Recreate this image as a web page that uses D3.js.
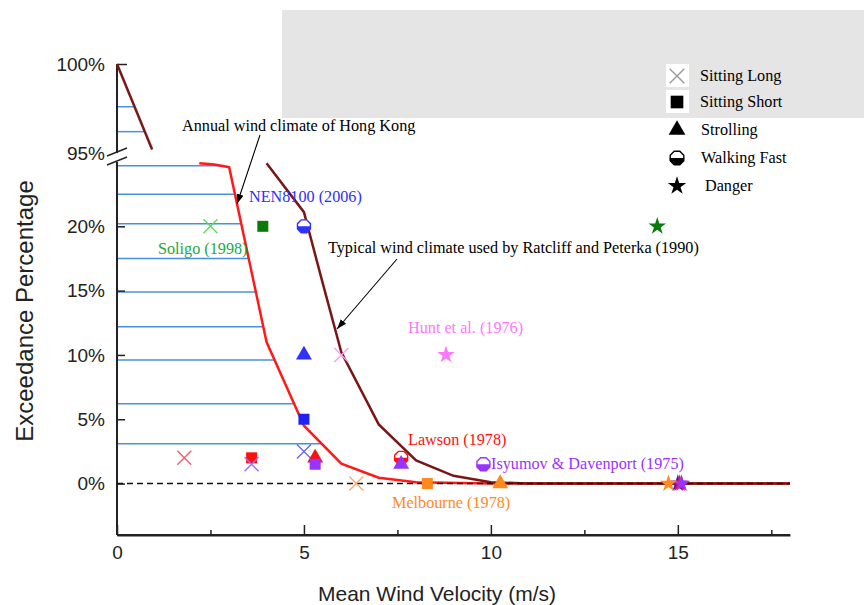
<!DOCTYPE html>
<html lang="en">
<head>
<meta charset="utf-8">
<title>Wind comfort criteria vs wind climate</title>
<script src="https://d3js.org/d3.v7.min.js"></script>
<style>
  body { margin: 0; background: #fff; }
  svg { display: block; }
</style>
</head>
<body>
<script>
// comfort categories (legend order)
const categories = ["Sitting Long", "Sitting Short", "Strolling", "Walking Fast", "Danger"];

// criteria per source: velocity (m/s) and exceedance (%) for each category, null = none
const sources = ["Soligo (1998)", "NEN8100 (2006)", "Hunt et al. (1976)", "Lawson (1978)", "Isyumov & Davenport (1975)", "Melbourne (1978)"];
const soligoV    = [2.5, 3.9, null, null, 14.45];
const soligoP    = [20, 20, null, null, 20];
const nenV       = [5.0, 5.0, 5.0, 5.0, 15.0];
const nenP       = [2.5, 5, 10, 20, 0];
const huntV      = [6.0, null, null, null, 8.8];
const huntP      = [10, null, null, null, 10];
const lawsonV    = [1.8, 3.6, 5.3, 7.6, 15.05];
const lawsonP    = [2, 2, 2, 2, 0];
const isyumovV   = [3.6, 5.3, 7.6, 9.8, 15.1];
const isyumovP   = [1.5, 1.5, 1.5, 1.5, 0];
const melbourneV = [6.4, 8.3, 10.25, null, 14.75];
const melbourneP = [0, 0, 0, null, 0];

// annual wind climate of Hong Kong (red) and Ratcliff & Peterka (brown)
const hkV = [2.2, 2.6, 3.0, 4.0, 5.0, 6.0, 7.0, 8.0, 10.0, 18.0];
const hkP = [24.9, 24.8, 24.6, 11.0, 4.5, 1.55, 0.45, 0.1, 0, 0];
const upperV = [0, 0.94];
const upperP = [100, 95.2];
const rpV = [4.0, 5.0, 5.5, 6.0, 7.0, 8.0, 9.0, 10.0, 11.0, 18.0];
const rpP = [24.9, 21.1, 15.6, 10.2, 4.6, 1.8, 0.6, 0.1, 0, 0];

// exceedance levels marked with blue lines
const blueLow = [24.7, 22.5, 20.2, 17.5, 14.9, 12.2, 9.6, 6.2, 3.1];
const blueUp = [97.6, 96.2];

const xTicks = [0, 5, 10, 15];
const xMinor = [2.5, 7.5, 12.5, 17.5];
const yTicksLow = [0, 5, 10, 15, 20];
const yTicksUp = [95, 100];

const srcColor = ["#1fa83f", "#3030ff", "#ff77ff", "#ff1010", "#9933ff", "#ff8a1c"];
const srcCross = ["#55e055", "#6a6af0", "#f5a0f0", "#ee6070", "#a070f0", "#f5aa70"];
const srcDark  = ["#0a7a0a", "#2020f0", "#ff77ff", "#ff1010", "#9933ff", "#ff8a1c"];

const W = 864, H = 605;
const svg = d3.select("body").append("svg").attr("width", W).attr("height", H);

const x = d3.scaleLinear().domain([0, 18]).range([117, 790]);
const yLow = d3.scaleLinear().domain([-4, 25]).range([535, 162]);
const yUp = d3.scaleLinear().domain([95, 100]).range([153, 64]);
function y(p) { return p >= 95 ? yUp(p) : yLow(p); }

const serif = "'Liberation Serif', 'Times New Roman', serif";
const sans = "'Liberation Sans', Arial, sans-serif";
const noteSize = "16.2px";

// grey box behind legend
svg.append("rect").attr("x", 282).attr("y", 10).attr("width", 582).attr("height", 108).attr("fill", "#e5e5e5");

// interpolate a curve at a given exceedance
function velAt(vs, ps, p) {
  for (let i = 0; i < vs.length - 1; i++) {
    const a = ps[i], b = ps[i + 1];
    if ((p <= a && p >= b) || (p >= a && p <= b)) {
      return vs[i] + (vs[i + 1] - vs[i]) * (p - a) / (b - a);
    }
  }
  return vs[0];
}

// blue level lines
const blueG = svg.append("g").attr("stroke", "#4a90e2").attr("stroke-width", 1.5);
blueLow.forEach(p => {
  blueG.append("line").attr("x1", x(0)).attr("x2", x(velAt(hkV, hkP, p)))
    .attr("y1", yLow(p)).attr("y2", yLow(p));
});
blueUp.forEach(p => {
  blueG.append("line").attr("x1", x(0)).attr("x2", x(velAt(upperV, upperP, p)))
    .attr("y1", yUp(p)).attr("y2", yUp(p));
});

// axes
const axG = svg.append("g");

const xAxis = axG.append("g").attr("transform", `translate(0,${yLow(-4)})`)
  .call(d3.axisBottom(x).tickValues(xTicks).tickSizeInner(-10).tickSizeOuter(0).tickPadding(11));
xAxis.append("g").call(d3.axisBottom(x).tickValues(xMinor).tickSizeInner(-5).tickSizeOuter(0).tickFormat(""));
xAxis.select(".domain").attr("d", `M${x(0)},0H${x(18)}`);

const yAxisLow = axG.append("g").attr("transform", `translate(${x(0)},0)`)
  .call(d3.axisLeft(yLow).tickValues(yTicksLow).tickSizeInner(-8).tickSizeOuter(0).tickPadding(12)
    .tickFormat(d => d + "%"));
yAxisLow.select(".domain").attr("d", `M0,${yLow(-4)}V${yLow(25)}`);

const yAxisUp = axG.append("g").attr("transform", `translate(${x(0)},0)`)
  .call(d3.axisLeft(yUp).tickValues(yTicksUp).tickSizeInner(-10).tickSizeOuter(0).tickPadding(12)
    .tickFormat(d => d + "%"));
yAxisUp.select(".domain").attr("d", `M0,${yUp(100)}V${yUp(95)}`);
yAxisUp.selectAll(".tick").filter(d => d === 95).select("line").remove();

axG.selectAll(".domain").attr("stroke", "#222").attr("stroke-width", 2);
axG.selectAll(".tick line").attr("stroke", "#222").attr("stroke-width", 1.5);
axG.selectAll(".tick text").attr("fill", "#222")
  .style("font-family", sans).style("font-size", "19px");

// axis break marks
const bx = x(0);
[[yLow(25) + 3, yLow(25) - 5], [yUp(95) + 3, yUp(95) - 5]].forEach(([a, b]) => {
  svg.append("line").attr("x1", bx - 10).attr("y1", a).attr("x2", bx + 10).attr("y2", b)
    .attr("stroke", "#222").attr("stroke-width", 1.5);
});

// axis titles
svg.append("text").attr("x", 437).attr("y", 601).attr("text-anchor", "middle")
  .style("font-family", sans).style("font-size", "21px").attr("fill", "#222")
  .text("Mean Wind Velocity (m/s)");
svg.append("text").attr("transform", `translate(33,311) rotate(-90)`).attr("text-anchor", "middle")
  .style("font-family", sans).style("font-size", "24px").attr("fill", "#222")
  .text("Exceedance Percentage");

// climate curves
const line = d3.line().x(d => x(d[0])).y(d => y(d[1]));
svg.append("path").datum(hkV.map((v, i) => [v, hkP[i]])).attr("d", line)
  .attr("fill", "none").attr("stroke", "#ff1a1a").attr("stroke-width", 2.5);
svg.append("path").datum(upperV.map((v, i) => [v, upperP[i]])).attr("d", line)
  .attr("fill", "none").attr("stroke", "#7a1616").attr("stroke-width", 2.5);
svg.append("path").datum(rpV.map((v, i) => [v, rpP[i]])).attr("d", line)
  .attr("fill", "none").attr("stroke", "#7a1616").attr("stroke-width", 2.5);

// zero line
svg.append("line").attr("x1", x(0)).attr("x2", x(18)).attr("y1", yLow(0)).attr("y2", yLow(0))
  .attr("stroke", "#111").attr("stroke-width", 1.5).attr("stroke-dasharray", "6,4");

// marker drawing
function drawMarker(g, cat, cx, cy, col, crossCol, scale) {
  const s = scale || 1;
  const t = g.append("g").attr("transform", `translate(${cx},${cy})`);
  if (cat === 0) {
    const r = 7 * s;
    t.append("path").attr("d", `M${-r},${-r}L${r},${r}M${-r},${r}L${r},${-r}`)
      .attr("stroke", crossCol).attr("stroke-width", 1.4).attr("fill", "none");
  } else if (cat === 1) {
    const h = 5.5 * s;
    t.append("rect").attr("x", -h).attr("y", -h).attr("width", 2 * h).attr("height", 2 * h).attr("fill", col);
  } else if (cat === 2) {
    t.append("path").attr("d", d3.symbol(d3.symbolTriangle, 110 * s * s)()).attr("fill", col);
  } else if (cat === 3) {
    const r = 7 * s;
    const pts = d3.range(8).map(k => {
      const a = Math.PI / 8 + k * Math.PI / 4;
      return [r * Math.cos(a), r * Math.sin(a)];
    });
    t.append("path").attr("d", "M" + pts.map(p => p.join(",")).join("L") + "Z")
      .attr("fill", "#fff").attr("stroke", col).attr("stroke-width", 1.4);
    const lower = [[r, 0]].concat(pts.filter(p => p[1] > 0)).concat([[-r, 0]]);
    t.append("path").attr("d", "M" + lower.map(p => p.join(",")).join("L") + "Z").attr("fill", col);
  } else {
    t.append("path").attr("d", d3.symbol(d3.symbolStar, 95 * s * s)()).attr("fill", col);
  }
}

const markG = svg.append("g");
const srcV = [soligoV, nenV, huntV, lawsonV, isyumovV, melbourneV];
const srcP = [soligoP, nenP, huntP, lawsonP, isyumovP, melbourneP];
srcV.forEach((vs, si) => {
  vs.forEach((v, ci) => {
    if (v === null) return;
    drawMarker(markG, ci, x(v), y(srcP[si][ci]), ci === 1 || ci === 4 ? srcDark[si] : srcColor[si], srcCross[si]);
  });
});

// source labels
const srcLabels = [
  { i: 0, x: 158, y: 254 },
  { i: 1, x: 249, y: 202 },
  { i: 2, x: 408, y: 333 },
  { i: 3, x: 408, y: 445 },
  { i: 4, x: 491, y: 469 },
  { i: 5, x: 392, y: 508 }
];
svg.append("g").style("font-family", serif).style("font-size", noteSize)
  .selectAll("text").data(srcLabels).enter().append("text")
  .attr("x", d => d.x).attr("y", d => d.y)
  .attr("fill", d => srcColor[d.i])
  .text(d => sources[d.i]);

// annotations with arrows
svg.append("defs").append("marker").attr("id", "arr").attr("viewBox", "0 0 10 10")
  .attr("refX", 10).attr("refY", 5).attr("markerWidth", 9).attr("markerHeight", 9)
  .attr("orient", "auto-start-reverse")
  .append("path").attr("d", "M0,1.5L10,5L0,8.5Z").attr("fill", "#000");

const notes = [
  { text: "Annual wind climate of Hong Kong", tx: 182, ty: 131, x1: 260, y1: 135, x2: 237, y2: 204 },
  { text: "Typical wind climate used by Ratcliff and Peterka (1990)", tx: 328, ty: 253, x1: 397, y1: 259, x2: 337, y2: 329 }
];
notes.forEach(n => {
  svg.append("text").attr("x", n.tx).attr("y", n.ty).style("font-family", serif).style("font-size", noteSize)
    .attr("fill", "#000").text(n.text);
  svg.append("line").attr("x1", n.x1).attr("y1", n.y1).attr("x2", n.x2).attr("y2", n.y2)
    .attr("stroke", "#000").attr("stroke-width", 1.1).attr("marker-end", "url(#arr)");
});

// legend
const legRows = [76, 102, 130, 158, 186];
const legTextX = [700, 700, 701, 701, 705];
const lg = svg.append("g");
categories.forEach((c, i) => {
  if (i < 2) {
    lg.append("rect").attr("x", 666).attr("y", legRows[i] - 12).attr("width", 23).attr("height", 23).attr("fill", "#fff");
  }
  drawMarker(lg, i, 677, legRows[i], "#000", "#9a9a9a", i === 1 ? 1.15 : 1.05);
  lg.append("text").attr("x", legTextX[i]).attr("y", legRows[i] + 5)
    .style("font-family", serif).style("font-size", noteSize).attr("fill", "#000").text(c);
});
</script>
</body>
</html>
